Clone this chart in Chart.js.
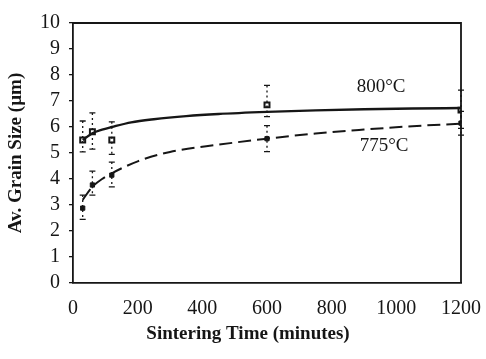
<!DOCTYPE html>
<html>
<head>
<meta charset="utf-8">
<title>Grain size vs sintering time</title>
<script src="https://cdn.jsdelivr.net/npm/chart.js@4"></script>
<style>
  html, body { margin: 0; padding: 0; background: #ffffff; }
  #campo-grafico { width: 486px; height: 359px; position: relative; }
</style>
</head>
<body>
<div id="campo-grafico">
  <canvas id="graficoGrao"></canvas>
</div>
<script>
/* =========================================================
   DATA
========================================================= */

// measured points, sintering time in minutes
const times = [30, 60, 120, 600, 1200];

// 800 °C (open squares)
const size800 = [5.5, 5.82, 5.5, 6.85, 6.65];
const hi800 = [6.23, 6.54, 6.2, 7.6, 7.42];
const lo800 = [5.04, 5.15, 4.95, 6.4, 5.95];

// 775 °C (filled squares)
const size775 = [2.88, 3.77, 4.15, 5.55, 6.15];
const hi775 = [3.38, 4.3, 4.65, 6.05, 6.6];
const lo775 = [2.45, 3.38, 3.7, 5.05, 5.69];

// fitted curves
const fitTimes800 = [30, 60, 90, 120, 180, 250, 350, 450, 600, 750, 900, 1050, 1200];
const fit800 = [5.5, 5.76, 5.9, 6.0, 6.18, 6.3, 6.42, 6.5, 6.58, 6.64, 6.68, 6.71, 6.73];

const fitTimes775 = [30, 60, 90, 120, 200, 300, 450, 600, 750, 900, 1050, 1200];
const fit775 = [3.2, 3.7, 4.0, 4.22, 4.68, 5.04, 5.32, 5.55, 5.75, 5.9, 6.03, 6.13];

// curve labels
const curveLabels = ['800°C', '775°C'];
const labelTimes = [953, 962];
const labelSizes = [7.52, 5.27];

// axis
const xTicks = [0, 200, 400, 600, 800, 1000, 1200];
const yTicks = [0, 1, 2, 3, 4, 5, 6, 7, 8, 9, 10];
const xTitle = 'Sintering Time (minutes)';
const yTitle = 'Av. Grain Size (µm)';


/* =========================================================
   HELPERS
========================================================= */

const pares = (xs, ys) => xs.map((x, i) => ({ x, y: ys[i] }));

const tinta = '#161616';
const fonteSerif = '"Liberation Serif", "DejaVu Serif", serif';


/* =========================================================
   PLUGIN: frame, error bars, curve labels, x title
========================================================= */

const extras = {
  id: 'extras',

  afterDatasetsDraw(chart) {
    const { ctx, chartArea, scales } = chart;
    const sx = scales.x;
    const sy = scales.y;

    ctx.save();

    // -------------------------------------------------------
    // error bars (dotted, small caps)
    // -------------------------------------------------------
    const barras = [
      { hi: hi800, lo: lo800 },
      { hi: hi775, lo: lo775 }
    ];

    ctx.strokeStyle = tinta;
    barras.forEach(b => {
      times.forEach((t, i) => {
        const px = sx.getPixelForValue(t);
        const yTop = sy.getPixelForValue(b.hi[i]);
        const yBot = sy.getPixelForValue(b.lo[i]);

        ctx.lineWidth = 1.3;
        ctx.setLineDash([2, 3]);
        ctx.beginPath();
        ctx.moveTo(px, yTop);
        ctx.lineTo(px, yBot);
        ctx.stroke();

        ctx.setLineDash([]);
        ctx.beginPath();
        ctx.moveTo(px - 3, yTop);
        ctx.lineTo(px + 3, yTop);
        ctx.moveTo(px - 3, yBot);
        ctx.lineTo(px + 3, yBot);
        ctx.stroke();
      });
    });

    // -------------------------------------------------------
    // top and right frame
    // -------------------------------------------------------
    ctx.setLineDash([]);
    ctx.lineWidth = 1.8;
    ctx.beginPath();
    ctx.moveTo(chartArea.left, chartArea.top);
    ctx.lineTo(chartArea.right, chartArea.top);
    ctx.lineTo(chartArea.right, chartArea.bottom);
    ctx.stroke();

    // -------------------------------------------------------
    // curve labels
    // -------------------------------------------------------
    ctx.fillStyle = tinta;
    ctx.font = '19px ' + fonteSerif;
    ctx.textAlign = 'center';
    ctx.textBaseline = 'middle';
    curveLabels.forEach((txt, i) => {
      ctx.fillText(txt, sx.getPixelForValue(labelTimes[i]), sy.getPixelForValue(labelSizes[i]));
    });

    // -------------------------------------------------------
    // x title (sits a bit left of the axis centre in the original)
    // -------------------------------------------------------
    ctx.font = 'bold 19px ' + fonteSerif;
    ctx.fillText(xTitle, chartArea.left + 175, sx.bottom - 25);

    ctx.restore();
  }
};


/* =========================================================
   CHART
========================================================= */

const canvasGrafico = document.getElementById('graficoGrao');

const grafico = new Chart(canvasGrafico, {
  type: 'scatter',

  data: {
    datasets: [
      {
        type: 'line',
        data: pares(fitTimes800, fit800),
        borderColor: tinta,
        borderWidth: 2.4,
        pointRadius: 0,
        cubicInterpolationMode: 'monotone',
        fill: false
      },
      {
        type: 'line',
        data: pares(fitTimes775, fit775),
        borderColor: tinta,
        borderWidth: 2,
        borderDash: [13, 6],
        pointRadius: 0,
        cubicInterpolationMode: 'monotone',
        fill: false
      },
      {
        data: pares(times, size800),
        pointStyle: 'rect',
        pointRadius: 3.5,
        pointBackgroundColor: '#ffffff',
        pointBorderColor: tinta,
        pointBorderWidth: 2
      },
      {
        data: pares(times, size775),
        pointStyle: 'rect',
        pointRadius: 3,
        pointBackgroundColor: tinta,
        pointBorderColor: tinta,
        pointBorderWidth: 1
      }
    ]
  },

  options: {
    responsive: true,
    maintainAspectRatio: false,
    animation: false,

    layout: {
      padding: { top: 23, right: 25, left: 0, bottom: 0 }
    },

    plugins: {
      legend: { display: false },
      tooltip: { enabled: false }
    },

    scales: {
      x: {
        type: 'linear',
        min: 0,
        max: 1200,
        afterBuildTicks: axis => { axis.ticks = xTicks.map(v => ({ value: v })); },
        afterFit: axis => {
          axis.height = 76;
          // the last label may hang past the frame, like the original
          axis.paddingLeft = 0;
          axis.paddingRight = 0;
        },
        ticks: {
          color: tinta,
          padding: 14,
          maxRotation: 0,
          autoSkip: false,
          callback: v => String(v),
          font: { family: fonteSerif, size: 20 }
        },
        grid: { display: false, drawTicks: false },
        border: { display: true, color: tinta, width: 1.8 },
        title: { display: false }
      },

      y: {
        min: 0,
        max: 10,
        afterBuildTicks: axis => { axis.ticks = yTicks.map(v => ({ value: v })); },
        afterFit: axis => { axis.width = 73; },
        ticks: {
          color: tinta,
          padding: 9,
          autoSkip: false,
          callback: v => String(v),
          font: { family: fonteSerif, size: 20 }
        },
        grid: {
          drawOnChartArea: false,
          drawTicks: true,
          tickLength: 4,
          color: tinta,
          lineWidth: 1.3
        },
        border: { display: true, color: tinta, width: 1.8 },
        title: {
          display: true,
          text: yTitle,
          color: tinta,
          padding: { top: 5, bottom: 0 },
          font: { family: fonteSerif, size: 19, weight: 'bold' }
        }
      }
    }
  },

  plugins: [extras]
});
</script>
</body>
</html>
